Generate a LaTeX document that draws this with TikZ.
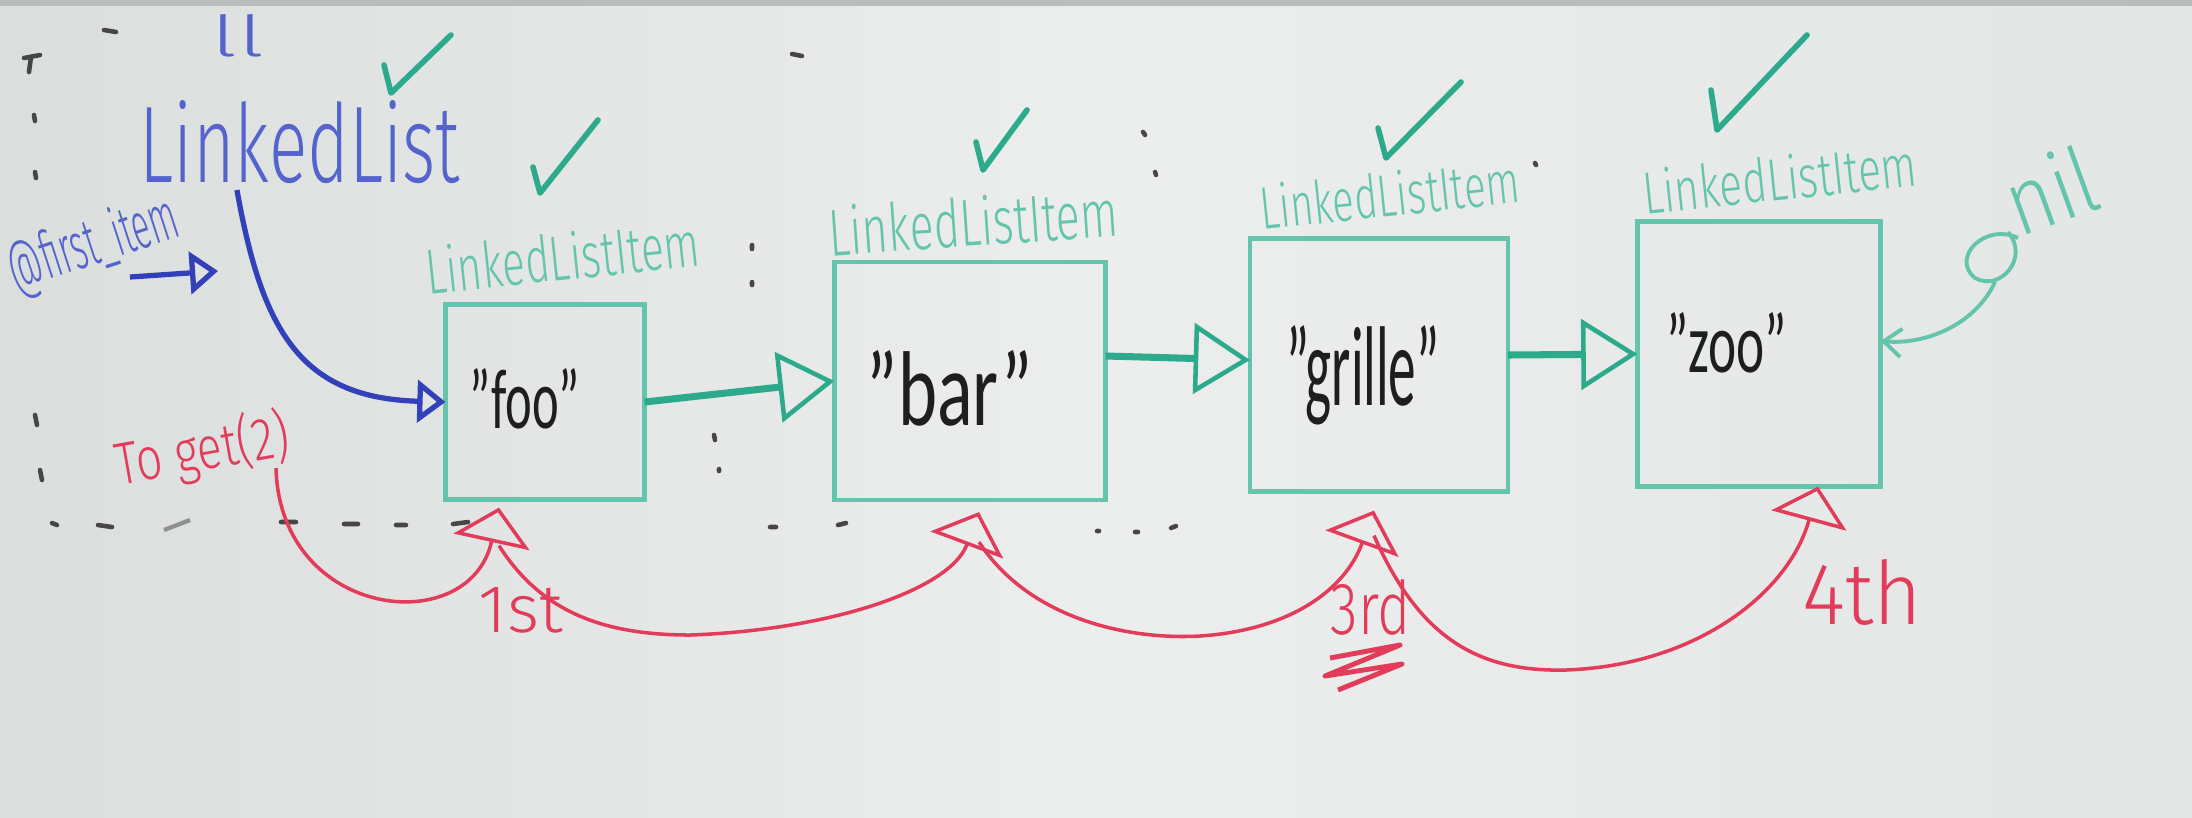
\documentclass[tikz,border=0pt]{standalone}
\usepackage{fontspec}
\setmainfont{Carlito}
\newfontfamily\handlight{Fira Sans Light}
\usetikzlibrary{arrows.meta}
\definecolor{boardL}{RGB}{218,222,221}
\definecolor{boardM}{RGB}{236,238,237}
\definecolor{boardR}{RGB}{226,230,229}
\definecolor{gdark}{RGB}{45,170,140}
\definecolor{glight}{RGB}{100,196,172}
\definecolor{btext}{RGB}{85,100,205}
\definecolor{bdark}{RGB}{50,65,185}
\definecolor{rline}{RGB}{226,60,90}
\definecolor{ink}{RGB}{30,30,30}
\definecolor{residue}{RGB}{70,70,70}
\newcommand{\handtext}[3]{\resizebox{#1}{#2}{#3}}
\begin{document}
\begin{tikzpicture}[x=0.01cm,y=-0.01cm,
  itembox/.style={draw=glight,line width=1.2pt,rectangle,inner sep=0pt,outer sep=0pt},
  greenarrow/.style={draw=gdark,line width=2pt,-{Triangle[open,length=16pt,width=20pt,line width=1.3pt]}},
  greenthin/.style={draw=glight,line width=1.1pt},
  bluearrow/.style={draw=bdark,line width=1.5pt,-{Triangle[open,length=8pt,width=12pt]}},
  redarrow/.style={draw=rline,line width=1pt,-{Triangle[open,length=10pt,width=22pt]}},
  redline/.style={draw=rline,line width=1pt},
  tickmark/.style={draw=gdark,line width=1.6pt,line cap=round,line join=round},
  lbl/.style={inner sep=0pt,outer sep=0pt,anchor=base,font=\handlight},
  vlbl/.style={inner sep=0pt,outer sep=0pt,anchor=base,text=ink},
  dirt/.style={draw=residue,line width=1.3pt,line cap=round}]
\useasboundingbox (0,0) rectangle (2192,817);
\shade[left color=boardL,right color=boardR,middle color=boardM] (0,0) rectangle (2192,817);
\fill[boardL!85!black] (0,0) rectangle (2192,6);

% residue marks
\draw[dirt] (24,58) -- (40,55) (31,57) -- (29,72);
\draw[dirt] (104,30) -- (116,32);
\draw[dirt] (34,115) -- (35,121) (35,172) -- (36,178) (35,415) -- (37,425) (40,470) -- (42,480);
\draw[dirt] (792,54) -- (802,56) (1143,132) -- (1145,135) (1155,172) -- (1156,175) (1535,163) -- (1536,165);
\draw[dirt] (752,245) -- (752,249) (752,282) -- (752,285) (714,435) -- (715,440) (719,469) -- (719,471);
\draw[dirt] (52,523) -- (57,525) (98,525) -- (112,527) (281,522) -- (296,522) (344,524) -- (358,524) (396,525) -- (406,525) (453,524) -- (468,522);
\draw[residue!60,line width=1.2pt] (164,530) -- (190,520);
\draw[dirt] (770,527) -- (776,527) (838,525) -- (846,523) (1097,531) -- (1099,531) (1135,532) -- (1138,532) (1171,528) -- (1176,526);

% title
\node[lbl,text=btext] (ll) at (238,56) {\handtext{0.52cm}{0.42cm}{ll}};
\node[lbl,text=btext] (LL) at (300,182) {\handtext{3.2cm}{0.82cm}{LinkedList}};
\node[lbl,text=btext,rotate=18,anchor=base west] (FI) at (16,290) {\handtext{1.75cm}{0.5cm}{@first\_item}};
\coordinate (fiA) at (130,277);
\coordinate (fiB) at (218,271);
\draw[bluearrow] (fiA) -- (fiB);

% boxes
\node[itembox,minimum width=1.99cm,minimum height=1.95cm] (b1) at (545,402) {};
\node[itembox,minimum width=2.71cm,minimum height=2.38cm] (b2) at (970,381) {};
\node[itembox,minimum width=2.58cm,minimum height=2.53cm] (b3) at (1379,365) {};
\node[itembox,minimum width=2.43cm,minimum height=2.65cm] (b4) at (1759,354) {};

% labels
\node[lbl,text=glight,rotate=6] (l1) at (565,280) {\handtext{2.75cm}{0.48cm}{LinkedListItem}};
\node[lbl,text=glight,rotate=4] (l2) at (975,246) {\handtext{2.9cm}{0.5cm}{LinkedListItem}};
\node[lbl,text=glight,rotate=6] (l3) at (1392,216) {\handtext{2.6cm}{0.45cm}{LinkedListItem}};
\node[lbl,text=glight,rotate=6] (l4) at (1782,200) {\handtext{2.75cm}{0.45cm}{LinkedListItem}};

% values
\node[vlbl] (v1) at (525,428) {\handtext{1.1cm}{0.6cm}{"foo"}};
\node[vlbl] (v2) at (950,425) {\handtext{1.66cm}{0.75cm}{"bar"}};
\node[vlbl] (v3) at (1363,405) {\handtext{1.53cm}{0.8cm}{"grille"}};
\node[vlbl] (v4) at (1727,372) {\handtext{1.2cm}{0.6cm}{"zoo"}};

% checks
\draw[tickmark] (384,65) -- (391,93) -- (451,35);
\draw[tickmark] (533,167) -- (540,193) -- (598,120);
\draw[tickmark] (976,142) -- (983,170) -- (1027,110);
\draw[tickmark] (1378,128) -- (1386,158) -- (1461,82);
\draw[tickmark] (1711,90) -- (1717,130) -- (1807,35);

% green links
\draw[greenarrow] (b1.east) -- (b2.west);
\draw[greenarrow] ([yshift=0.25cm]b2.east) -- ([yshift=0.05cm]b3.west);
\draw[greenarrow] ([yshift=0.1cm]b3.east) -- (b4.west);

% blue link
\coordinate (llA) at ([xshift=-0.63cm,yshift=-0.08cm]LL.base);
\draw[bluearrow] (llA) .. controls (262,330) and (300,398) .. (b1.west);

% nil
\node[lbl,text=glight,rotate=20] (nil) at (2062,222) {\handtext{0.9cm}{0.7cm}{nil}};
\draw[greenthin] (2018,238) .. controls (1985,222) and (1950,258) .. (1975,278) .. controls (2000,292) and (2030,258) .. (2008,232);
\coordinate (nilA) at (1995,282);
\draw[greenthin,-{Straight Barb[length=5pt,width=8pt]}] (nilA) .. controls (1975,325) and (1925,345) .. ([yshift=0.13cm]b4.east);

% red traversal
\node[lbl,text=rline,rotate=10] (tg) at (206,470) {\handtext{1.75cm}{0.5cm}{To get(2)}};
\coordinate (tgA) at (276,468);
\coordinate (t1) at ([xshift=-0.46cm,yshift=-0.08cm]b1.south);
\coordinate (t2) at ([xshift=0.09cm,yshift=-0.12cm]b2.south);
\coordinate (t3) at ([xshift=-0.05cm,yshift=-0.19cm]b3.south);
\coordinate (t4) at ([xshift=0.59cm,yshift=0cm]b4.south);
\coordinate (s1) at ([yshift=-0.38cm]t1);
\coordinate (s2) at ([yshift=-0.3cm]t2);
\coordinate (s3) at ([yshift=-0.25cm]t3);
\draw[redarrow] (tgA) .. controls (280,620) and (470,640) .. (t1);
\draw[redarrow] (s1) .. controls (540,610) and (600,635) .. (690,635) .. controls (830,630) and (950,590) .. (t2);
\draw[redarrow] (s2) .. controls (1030,620) and (1130,640) .. (1200,636) .. controls (1290,630) and (1345,590) .. (t3);
\draw[redarrow] (s3) .. controls (1420,640) and (1480,672) .. (1566,670) .. controls (1700,665) and (1790,590) .. (t4);
\node[lbl,text=rline] (n1) at (521,632) {\handtext{0.84cm}{0.45cm}{1st}};
\node[lbl,text=rline] (n3) at (1371,634) {\handtext{0.8cm}{0.55cm}{3rd}};
\node[lbl,text=rline] (n4) at (1862,624) {\handtext{1.2cm}{0.65cm}{4th}};
\draw[redline,line width=1.4pt,line join=round] (1330,658) -- (1400,645) -- (1325,676) -- (1402,664) -- (1338,690);
\end{tikzpicture}
\end{document}
